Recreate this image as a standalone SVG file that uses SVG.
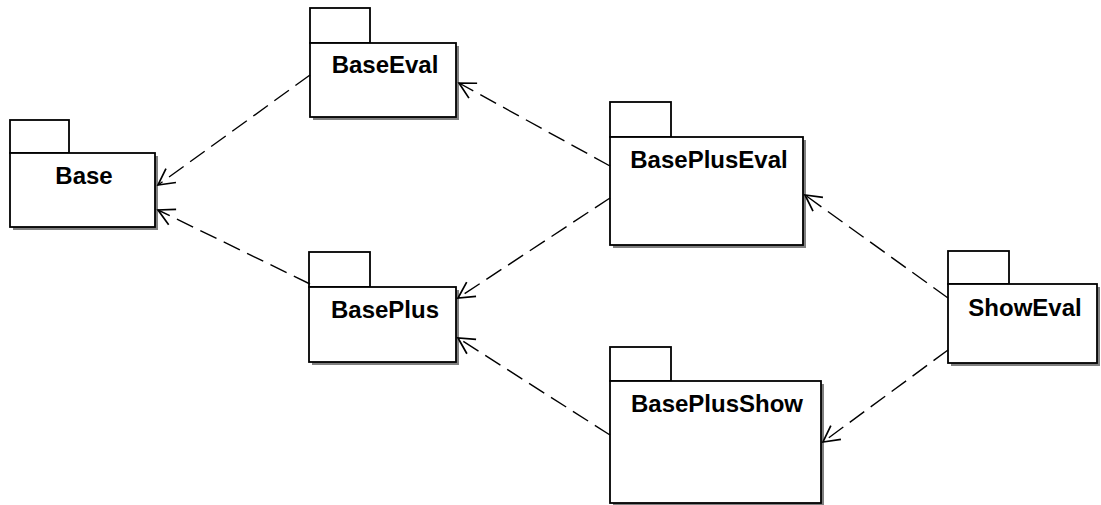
<svg xmlns="http://www.w3.org/2000/svg" width="1101" height="505" viewBox="0 0 1101 505">
<style>
.tab{fill:#fff;stroke:#000;stroke-width:1.8}
.body{fill:#fff;stroke:#000;stroke-width:1.8}
.shadow{fill:#808080}
.lbl{font-family:"Liberation Sans",Arial,sans-serif;font-weight:bold;font-size:24px;text-anchor:middle;fill:#000}
.dep{fill:none;stroke:#000;stroke-width:1.4;stroke-dasharray:18,8}
</style>
<defs>
<marker id="open" viewBox="-17 -10 19 20" refX="0" refY="0" markerWidth="19" markerHeight="20" markerUnits="userSpaceOnUse" orient="auto">
<path d="M-16,-8.5 L0,0 L-16,8.5" fill="none" stroke="#000" stroke-width="1.7"/>
</marker>
</defs>
<rect width="1101" height="505" fill="#fff"/>
<g id="Base">
<rect class="shadow" x="13" y="156" width="145" height="74"/>
<rect class="tab" x="10" y="120" width="59" height="33"/>
<rect class="body" x="10" y="153" width="145" height="74"/>
<text class="lbl" x="84" y="184">Base</text>
</g>
<g id="BaseEval">
<rect class="shadow" x="313" y="46" width="146" height="74"/>
<rect class="tab" x="310" y="8" width="60" height="35"/>
<rect class="body" x="310" y="43" width="146" height="74"/>
<text class="lbl" x="385" y="73">BaseEval</text>
</g>
<g id="BasePlus">
<rect class="shadow" x="312" y="290" width="147" height="75"/>
<rect class="tab" x="309" y="252" width="61" height="35"/>
<rect class="body" x="309" y="287" width="147" height="75"/>
<text class="lbl" x="385" y="318">BasePlus</text>
</g>
<g id="BasePlusEval">
<rect class="shadow" x="613" y="140" width="193" height="108"/>
<rect class="tab" x="610" y="102" width="61" height="35"/>
<rect class="body" x="610" y="137" width="193" height="108"/>
<text class="lbl" x="709" y="168">BasePlusEval</text>
</g>
<g id="BasePlusShow">
<rect class="shadow" x="613" y="384" width="211" height="122"/>
<rect class="tab" x="610" y="347" width="61" height="34"/>
<rect class="body" x="610" y="381" width="211" height="122"/>
<text class="lbl" x="717" y="412">BasePlusShow</text>
</g>
<g id="ShowEval">
<rect class="shadow" x="951" y="287" width="149" height="79"/>
<rect class="tab" x="948" y="251" width="61" height="33"/>
<rect class="body" x="948" y="284" width="149" height="79"/>
<text class="lbl" x="1025" y="316">ShowEval</text>
</g>
<g id="connectors">
<line class="dep" x1="310" y1="75" x2="158" y2="185" marker-end="url(#open)"/>
<line class="dep" x1="310" y1="284" x2="158" y2="210" marker-end="url(#open)"/>
<line class="dep" x1="610" y1="166" x2="459" y2="83" marker-end="url(#open)"/>
<line class="dep" x1="610" y1="198" x2="458" y2="298" marker-end="url(#open)"/>
<line class="dep" x1="948" y1="298" x2="805" y2="195" marker-end="url(#open)"/>
<line class="dep" x1="610" y1="435" x2="458" y2="338" marker-end="url(#open)"/>
<line class="dep" x1="948" y1="350" x2="823" y2="442" marker-end="url(#open)"/>
</g>
</svg>
